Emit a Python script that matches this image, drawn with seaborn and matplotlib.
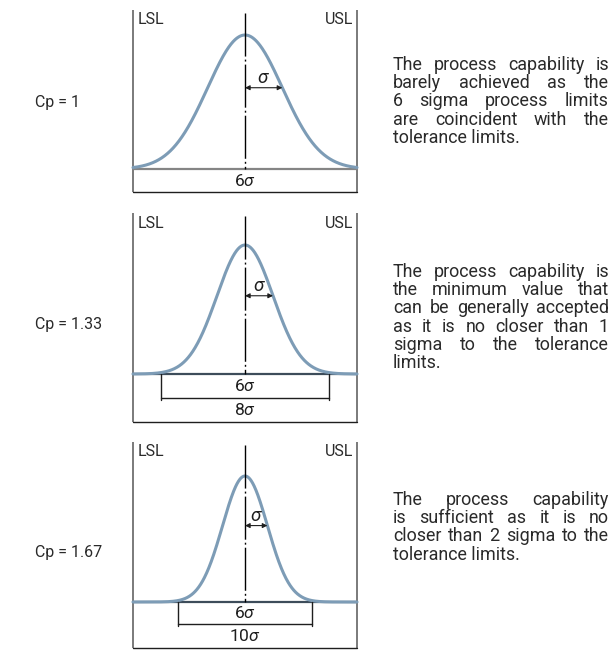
import numpy as np
import pandas as pd
import seaborn as sns
import matplotlib
matplotlib.use("Agg")
import matplotlib.pyplot as plt

# ---------------- data ----------------
cp_labels = ["Cp = 1", "Cp = 1.33", "Cp = 1.67"]
cp_values = [1.0, 1.33, 1.67]
tolerance_sigma = [6, 8, 10]      # LSL..USL width in sigma
process_sigma = [6, 6, 6]         # process spread in sigma
tolerance_labels = ["6σ", "8σ", "10σ"]
process_label = "6σ"
limit_labels = ["LSL", "USL"]
descriptions = [
    ["The process capability is",
     "barely achieved as the",
     "6 sigma process limits",
     "are coincident with the",
     "tolerance limits."],
    ["The process capability is",
     "the minimum value that",
     "can be generally accepted",
     "as it is no closer than 1",
     "sigma to the tolerance",
     "limits."],
    ["The process capability",
     "is sufficient as it is no",
     "closer than 2 sigma to the",
     "tolerance limits."],
]

# ---------------- style ----------------
sns.set_theme(style="white")
plt.rcParams['font.family'] = ['Roboto', 'DejaVu Sans']
plt.rcParams['mathtext.fontset'] = 'custom'
plt.rcParams['mathtext.rm'] = 'Roboto'
plt.rcParams['mathtext.it'] = 'Roboto:italic'
plt.rcParams['lines.scale_dashes'] = False

W, H = 614, 650
fig = plt.figure(figsize=(W / 100, H / 100), dpi=100)
fig.patch.set_facecolor("white")

curve_color = "#7d9cb6"
limit_color = "#7a7a7a"
base_colors = ["#858585", "#3d4c5a", "#3d4c5a"]
ink = "#1e1e1e"
text_color = "#2a2a2a"

# pixel layout of each panel (top of limit lines, curve peak, baseline, dimension lines)
layout = [
    dict(top=10, peak=35, base=169, dims=[192], label_y=103, text_y=65),
    dict(top=213, peak=245, base=374, dims=[398, 422], label_y=325, text_y=272),
    dict(top=442, peak=476, base=602, dims=[624, 648], label_y=552, text_y=500),
]
x_left, x_right = 133, 357
body_fs = 12.9
line_gap = 18.2
text_left, text_right = 393, 609


def sig(s):
    return s.replace("σ", r"$\mathit{\sigma}$")


for i in range(3):
    T = tolerance_sigma[i]
    P = process_sigma[i]
    L = layout[i]
    scale = L["base"] - L["peak"]
    bottom = L["dims"][-1]

    def yv(px):
        return (L["base"] - px) / scale

    ax = fig.add_axes([x_left / W, 1 - (bottom + 3) / H,
                       (x_right - x_left) / W, (bottom + 3 - (L["top"] - 2)) / H])
    ax.set_xlim(-T / 2, T / 2)
    ax.set_ylim(yv(bottom + 3), yv(L["top"] - 2))
    ax.axis("off")

    # tolerance limits
    for xv in (-T / 2, T / 2):
        ax.plot([xv, xv], [yv(bottom), yv(L["top"])], color=limit_color, lw=1.4,
                clip_on=False, solid_capstyle="butt")
    ax.annotate(limit_labels[0], xy=(-T / 2, yv(L["top"] + 10)), xytext=(3, 0),
                textcoords="offset points", ha="left", va="center", fontsize=11.5,
                color=text_color)
    ax.annotate(limit_labels[1], xy=(T / 2, yv(L["top"] + 10)), xytext=(-3, 0),
                textcoords="offset points", ha="right", va="center", fontsize=11.5,
                color=text_color)

    # baseline
    ax.plot([-T / 2, T / 2], [0, 0], color=base_colors[i], lw=1.6, clip_on=False)

    # normal curve
    xs = np.linspace(-T / 2, T / 2, 600)
    df = pd.DataFrame({"x": xs, "y": np.exp(-0.5 * xs ** 2)})
    sns.lineplot(data=df, x="x", y="y", ax=ax, color=curve_color, lw=2.2,
                 clip_on=False, estimator=None, legend=False)
    ax.set_xlabel("")
    ax.set_ylabel("")

    # centre line (dash-dot), drawn from the top down
    ax.plot([0, 0], [yv(L["top"] + 3), 0], color="#000000", lw=1.0,
            linestyle=(0, (31, 2.2, 1.4, 2.2)))

    # sigma arrow
    ya = np.exp(-0.5)
    ax.annotate("", xy=(1, ya), xytext=(0, ya),
                arrowprops=dict(arrowstyle="<|-|>", color=ink, lw=0.8,
                                shrinkA=0, shrinkB=0, mutation_scale=7))
    ax.text(0.5, ya + 1.0 / scale, r"$\mathit{\sigma}$", ha="center", va="bottom",
            fontsize=13.5, color=ink)

    # dimension lines
    dims = L["dims"]
    prev = L["base"]
    if T > P:
        yd = yv(dims[0])
        for xv in (-P / 2, P / 2):
            ax.plot([xv, xv], [0, yv(dims[0] + 2)], color=ink, lw=1.0)
        ax.plot([-P / 2, P / 2], [yd, yd], color=ink, lw=1.0)
        ax.text(0, yv((prev + dims[0]) / 2), sig(process_label), ha="center",
                va="center", fontsize=12.5, color=ink)
        prev = dims[0]
    yd = yv(dims[-1])
    ax.plot([-T / 2, T / 2], [yd, yd], color=ink, lw=1.0, clip_on=False)
    ax.text(0, yv((prev + dims[-1]) / 2), sig(tolerance_labels[i]), ha="center",
            va="center", fontsize=12.5, color=ink)

    # left label
    fig.text(35 / W, 1 - L["label_y"] / H, cp_labels[i], ha="left", va="center",
             fontsize=11.5, color=text_color)

# ---------------- justified description text ----------------
renderer = fig.canvas.get_renderer()
for i in range(3):
    lines = descriptions[i]
    y0 = layout[i]["text_y"]
    for k, line in enumerate(lines):
        yy = 1 - (y0 + k * line_gap) / H
        words = line.split(" ")
        last = (k == len(lines) - 1)
        if last or len(words) == 1:
            fig.text(text_left / W, yy, line, ha="left", va="center",
                     fontsize=body_fs, color=text_color)
            continue
        objs = [fig.text(0, yy, w, ha="left", va="center", fontsize=body_fs,
                         color=text_color) for w in words]
        widths = [o.get_window_extent(renderer).width for o in objs]
        gap = (text_right - text_left - sum(widths)) / (len(words) - 1)
        xx = text_left
        for o, wdt in zip(objs, widths):
            o.set_x(xx / W)
            xx += wdt + gap

fig.savefig("out.png", dpi=100, facecolor="white")
